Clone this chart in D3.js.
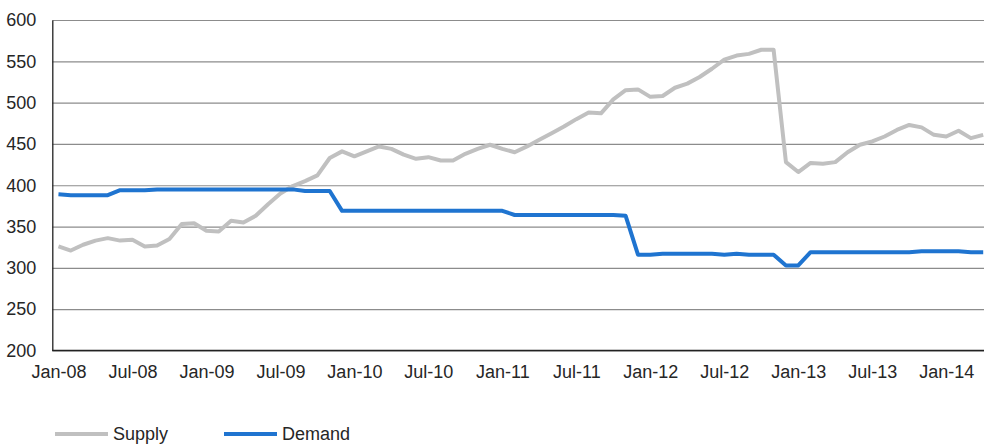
<!DOCTYPE html>
<html>
<head>
<meta charset="utf-8">
<script src="https://cdn.jsdelivr.net/npm/d3@7"></script>
<style>
  html, body { margin: 0; padding: 0; background: #fff; }
  svg { display: block; }
  text { font-family: "Liberation Sans", Arial, sans-serif; fill: #262626; }
</style>
</head>
<body>
<svg id="chart" width="984" height="444"></svg>
<script>
const months = [
  "Jan-08","Feb-08","Mar-08","Apr-08","May-08","Jun-08","Jul-08","Aug-08","Sep-08","Oct-08","Nov-08","Dec-08",
  "Jan-09","Feb-09","Mar-09","Apr-09","May-09","Jun-09","Jul-09","Aug-09","Sep-09","Oct-09","Nov-09","Dec-09",
  "Jan-10","Feb-10","Mar-10","Apr-10","May-10","Jun-10","Jul-10","Aug-10","Sep-10","Oct-10","Nov-10","Dec-10",
  "Jan-11","Feb-11","Mar-11","Apr-11","May-11","Jun-11","Jul-11","Aug-11","Sep-11","Oct-11","Nov-11","Dec-11",
  "Jan-12","Feb-12","Mar-12","Apr-12","May-12","Jun-12","Jul-12","Aug-12","Sep-12","Oct-12","Nov-12","Dec-12",
  "Jan-13","Feb-13","Mar-13","Apr-13","May-13","Jun-13","Jul-13","Aug-13","Sep-13","Oct-13","Nov-13","Dec-13",
  "Jan-14","Feb-14","Mar-14","Apr-14"
];
const supply = [
  326,321,328,333,336,333,334,326,327,335,353,354,
  345,344,357,355,363,377,390,399,405,412,433,441,
  435,441,447,444,437,432,434,430,430,438,444,449,
  444,440,447,455,463,471,480,488,487,504,515,516,
  507,508,518,523,531,541,552,557,559,564,564,428,
  416,427,426,428,440,449,453,459,467,473,470,461,
  459,466,457,461
];
const demand = [
  389,388,388,388,388,394,394,394,395,395,395,395,
  395,395,395,395,395,395,395,395,393,393,393,369,
  369,369,369,369,369,369,369,369,369,369,369,369,
  369,364,364,364,364,364,364,364,364,364,363,316,
  316,317,317,317,317,317,316,317,316,316,316,303,
  303,319,319,319,319,319,319,319,319,319,320,320,
  320,320,319,319
];
const xTickLabels = ["Jan-08","Jul-08","Jan-09","Jul-09","Jan-10","Jul-10","Jan-11","Jul-11","Jan-12","Jul-12","Jan-13","Jul-13","Jan-14"];
const yTicks = [200,250,300,350,400,450,500,550,600];
const seriesNames = ["Supply","Demand"];
const seriesColors = ["#c0c0c0","#1f74d0"];

const svg = d3.select("#chart");
const plotLeft = 52.3, plotTop = 20, plotBottom = 350.5, plotRight = 52.3 + 76 * 12.33;

const x = d3.scalePoint().domain(months).range([plotLeft, plotRight]).padding(0.5);
const y = d3.scaleLinear().domain([200, 600]).range([plotBottom, plotTop]);

// gridlines
svg.append("g")
  .attr("transform", `translate(${plotLeft},0)`)
  .call(d3.axisLeft(y).tickValues(yTicks).tickSize(-(plotRight - plotLeft)).tickFormat(""))
  .call(g => g.select(".domain").remove())
  .call(g => g.selectAll("line").attr("stroke", "#8c8c8c").attr("stroke-width", 1.2));

// y axis
svg.append("g")
  .attr("transform", `translate(${plotLeft},0)`)
  .call(d3.axisLeft(y).tickValues(yTicks).tickSize(0).tickPadding(16))
  .call(g => g.select(".domain").attr("stroke", "#222").attr("stroke-width", 1.3))
  .call(g => g.selectAll("text").attr("font-size", "18px").attr("fill", "#262626")
    .style("font-family", "'Liberation Sans', Arial, sans-serif"));

// x axis
svg.append("g")
  .attr("transform", `translate(0,${plotBottom})`)
  .call(d3.axisBottom(x).tickValues(xTickLabels).tickSize(0).tickPadding(15))
  .call(g => g.select(".domain").attr("d", `M${plotLeft},0H${plotRight}`).attr("stroke", "#222").attr("stroke-width", 1.3))
  .call(g => g.selectAll("text").attr("font-size", "18px").attr("fill", "#262626")
    .style("font-family", "'Liberation Sans', Arial, sans-serif"));

const line = d3.line().x((d, i) => x(months[i])).y(d => y(d)).curve(d3.curveLinear);

[supply, demand].forEach((s, k) => {
  svg.append("path")
    .datum(s)
    .attr("fill", "none")
    .attr("stroke", seriesColors[k])
    .attr("stroke-width", 4)
    .attr("stroke-linejoin", "round")
    .attr("d", line);
});

// legend
const legendX = [55, 224];
seriesNames.forEach((name, k) => {
  const g = svg.append("g").attr("transform", `translate(${legendX[k]},434)`);
  g.append("line").attr("x1", 0).attr("x2", 53).attr("y1", 0).attr("y2", 0)
    .attr("stroke", seriesColors[k]).attr("stroke-width", 4);
  g.append("text").attr("x", 58).attr("y", 0).attr("dy", "0.35em")
    .attr("font-size", "18px").text(name);
});
</script>
</body>
</html>
